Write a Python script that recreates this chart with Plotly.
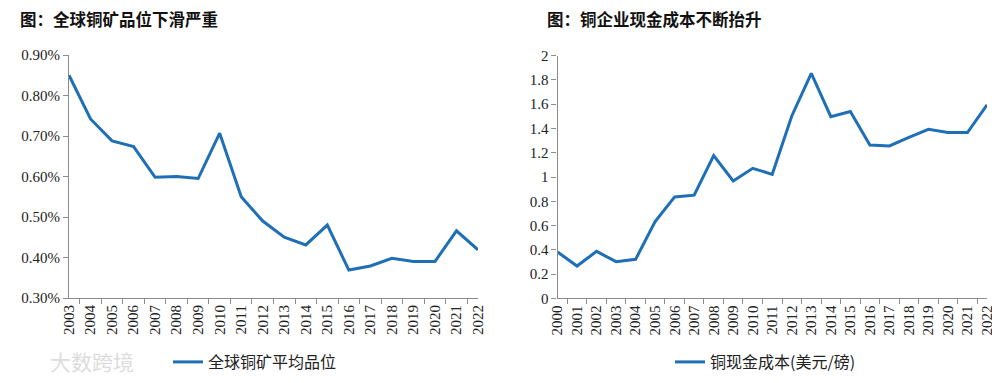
import plotly.graph_objects as go

# ---------------- data ----------------
years_left = [str(y) for y in range(2003, 2023)]
grade_pct = [0.85, 0.742, 0.688, 0.674, 0.598, 0.600, 0.595, 0.707, 0.550, 0.490,
             0.450, 0.431, 0.480, 0.369, 0.379, 0.398, 0.390, 0.390, 0.466, 0.419]

years_right = [str(y) for y in range(2000, 2023)]
cash_cost = [0.382, 0.266, 0.387, 0.302, 0.321, 0.632, 0.836, 0.850, 1.176, 0.967,
             1.072, 1.022, 1.503, 1.855, 1.497, 1.540, 1.264, 1.256, 1.327, 1.393,
             1.366, 1.366, 1.595]

title_left = "图：全球铜矿品位下滑严重"
title_right = "图：铜企业现金成本不断抬升"
name_left = "全球铜矿平均品位"
name_right = "铜现金成本(美元/磅)"
watermark = "大数跨境"

left_yticks = [0.3, 0.4, 0.5, 0.6, 0.7, 0.8, 0.9]
right_yticks = [0, 0.2, 0.4, 0.6, 0.8, 1, 1.2, 1.4, 1.6, 1.8, 2]

# ---------------- style ----------------
W, H = 992, 375          # page body has an 8px margin
OFF = 8
LINE = "#1f6fb6"
AXIS = "#8c8c8c"
SERIF = "Times New Roman, Liberation Serif, DejaVu Serif, serif"
CJK = "Noto Sans CJK SC"

fig = go.Figure()
fig.add_trace(go.Scatter(x=years_left, y=grade_pct, mode="lines", name=name_left,
                         line=dict(color=LINE, width=3), xaxis="x", yaxis="y",
                         legend="legend"))
fig.add_trace(go.Scatter(x=years_right, y=cash_cost, mode="lines", name=name_right,
                         line=dict(color=LINE, width=3), xaxis="x2", yaxis="y2",
                         legend="legend2"))

def px_x(v):
    return (v - OFF) / W

def px_y(v):
    return (H - (v - OFF)) / H

common_x = dict(type="category", showgrid=False, showline=True, linecolor=AXIS,
                linewidth=1.2, ticks="outside", tickson="boundaries", ticklen=5,
                tickcolor=AXIS, tickangle=-90, zeroline=False, automargin=False,
                tickfont=dict(family=SERIF, size=15, color="#222"))
common_y = dict(showgrid=False, showline=True, linecolor=AXIS, linewidth=1.2,
                ticks="outside", ticklen=5, tickcolor=AXIS, zeroline=False,
                automargin=False,
                tickfont=dict(family=SERIF, size=15, color="#222"))

fig.update_layout(
    width=W, height=H,
    font=dict(family=SERIF),
    margin=dict(l=0, r=0, t=0, b=0, autoexpand=False),
    paper_bgcolor="white", plot_bgcolor="white",
    xaxis=dict(common_x, domain=[px_x(69), px_x(478)], anchor="y"),
    yaxis=dict(common_y, domain=[px_y(298), px_y(55)], anchor="x",
               range=[0.3, 0.9], tickvals=left_yticks,
               ticktext=[f"{v:.2f}%" for v in left_yticks]),
    xaxis2=dict(common_x, domain=[px_x(557.5), px_x(987)], anchor="y2"),
    yaxis2=dict(common_y, domain=[px_y(298.3), px_y(55.7)], anchor="x2",
                range=[0, 2], tickvals=right_yticks),
    legend=dict(x=px_x(168), y=px_y(362), xanchor="left", yanchor="middle",
                font=dict(family=CJK, size=16, color="#222"),
                bgcolor="rgba(0,0,0,0)", itemwidth=30),
    legend2=dict(x=px_x(670), y=px_y(362), xanchor="left", yanchor="middle",
                 font=dict(family=CJK, size=16, color="#222"),
                 bgcolor="rgba(0,0,0,0)", itemwidth=30),
    showlegend=True,
    annotations=[
        dict(text=f"<b>{title_left}</b>", x=px_x(18), y=px_y(19.5), xref="paper",
             yref="paper", xanchor="left", yanchor="middle", showarrow=False,
             font=dict(family=CJK, size=16.5, color="#111")),
        dict(text=f"<b>{title_right}</b>", x=px_x(545), y=px_y(19.5), xref="paper",
             yref="paper", xanchor="left", yanchor="middle", showarrow=False,
             font=dict(family=CJK, size=16.5, color="#111")),
        dict(text=watermark, x=px_x(48), y=px_y(361), xref="paper", yref="paper",
             xanchor="left", yanchor="middle", showarrow=False,
             font=dict(family=CJK, size=21, color="#dcdcdc")),
    ],
)

fig.write_html("out.html")
